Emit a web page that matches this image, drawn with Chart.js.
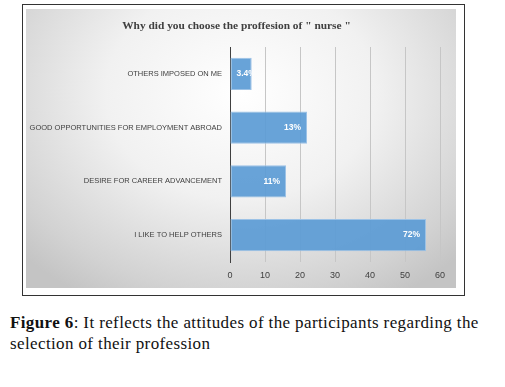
<!DOCTYPE html>
<html>
<head>
<meta charset="utf-8">
<script src="https://cdn.jsdelivr.net/npm/chart.js@4"></script>
<style>
  body { margin: 0; background: #fff; width: 505px; height: 387px; overflow: hidden; position: relative; }
  #frame { position: absolute; left: 22px; top: 4px; width: 443px; height: 292px; border: 1px solid #333; box-sizing: border-box; }
  #panel { position: absolute; left: 26px; top: 9px; width: 430px; height: 279px;
    background: radial-gradient(ellipse 70% 85% at 50% 30%, #ffffff 0%, #f1f1f1 45%, #d2d2d2 85%, #c4c4c4 100%); }
  #chart { position: absolute; left: 19px; top: 9px; }
  #title { position: absolute; left: 0; width: 473px; top: 18px; text-align: center; line-height: 14px;
    font-family: "Liberation Serif", "Times New Roman", serif; font-size: 11.4px; font-weight: bold; color: #404040; white-space: nowrap; }
  #caption { position: absolute; left: 10px; top: 312px; font-family: "Liberation Serif", "Times New Roman", serif;
    font-size: 17px; line-height: 21px; letter-spacing: 0.38px; color: #111; white-space: nowrap; }
</style>
</head>
<body>
<div id="frame"></div>
<div id="panel"></div>
<canvas id="chart" width="437" height="279"></canvas>
<div id="title">Why did you choose the proffesion of " nurse "</div>
<div id="caption"><b>Figure 6</b>: It reflects the attitudes of the participants regarding the<br>selection of their profession</div>
<script>
// chart data
const categories = ['OTHERS IMPOSED ON ME', 'GOOD OPPORTUNITIES FOR EMPLOYMENT ABROAD', 'DESIRE FOR CAREER ADVANCEMENT', 'I LIKE TO HELP OTHERS'];
const values = [6.2, 22, 16, 56];
const pctLabels = ['3.4%', '13%', '11%', '72%'];
const xTicks = [0, 10, 20, 30, 40, 50, 60];

// white labels inside the bar ends
const barLabels = {
    id: 'barLabels',
    afterDatasetsDraw(chart) {
        const ctx = chart.ctx;
        chart.getDatasetMeta(0).data.forEach((bar, i) => {
            const text = pctLabels[i];
            ctx.save();
            ctx.font = 'bold 8.5px "Liberation Sans", sans-serif';
            ctx.fillStyle = '#ffffff';
            ctx.textBaseline = 'middle';
            ctx.textAlign = 'left';
            const w = ctx.measureText(text).width;
            let x = bar.x - 6 - w;
            if (x < bar.base + 6) x = bar.base + 6;
            ctx.beginPath();
            ctx.rect(bar.base, bar.y - bar.height / 2, bar.x - bar.base, bar.height);
            ctx.clip();
            ctx.fillText(text, x, bar.y);
            ctx.restore();
        });
    }
};

const ctx = document.getElementById('chart').getContext('2d');
new Chart(ctx, {
    type: 'bar',
    data: {
        labels: categories,
        datasets: [{
            data: values,
            backgroundColor: 'rgba(91, 155, 213, 0.92)',
            borderColor: '#9cc2e6',
            borderWidth: 1,
            borderSkipped: false,
            categoryPercentage: 1,
            barPercentage: 0.6
        }]
    },
    options: {
        indexAxis: 'y',
        responsive: false,
        animation: false,
        layout: { padding: { left: 0, right: 16, top: 38, bottom: 0 } },
        plugins: {
            legend: { display: false },
            tooltip: { enabled: false }
        },
        scales: {
            x: {
                min: 0,
                max: 60,
                afterBuildTicks: s => { s.ticks = xTicks.map(v => ({ value: v })); },
                afterFit: s => { s.height = 26; },
                grid: { color: '#c6c6c6', drawTicks: false },
                border: { display: false },
                ticks: { color: '#404040', padding: 8, font: { family: '"Liberation Sans", sans-serif', size: 9 } }
            },
            y: {
                afterFit: s => { s.width = 211; },
                grid: { display: false, drawTicks: false },
                border: { display: true, color: '#404040', width: 1 },
                ticks: { color: '#404040', padding: 8, font: { family: '"Liberation Sans", sans-serif', size: 7.5 } }
            }
        }
    },
    plugins: [barLabels]
});
</script>
</body>
</html>
